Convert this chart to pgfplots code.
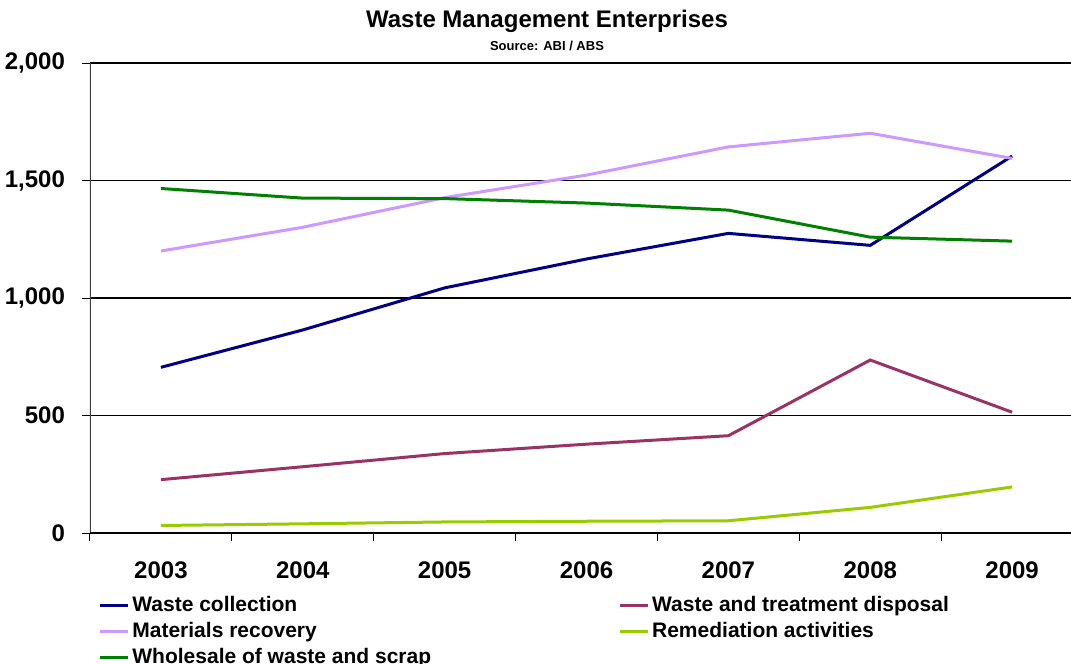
\documentclass[border=0pt]{standalone}
\usepackage{pgfplots}
\pgfplotsset{compat=1.18}
\usepackage{fontspec}
\setmainfont{Liberation Sans}
\definecolor{cCol}{HTML}{000080}
\definecolor{cTre}{HTML}{993366}
\definecolor{cMat}{HTML}{CC99FF}
\definecolor{cRem}{HTML}{99CC00}
\definecolor{cWho}{HTML}{008000}
\begin{document}
\begin{tikzpicture}
\path[use as bounding box] (-45pt,-65.5pt) rectangle (490.5pt,266.5pt);
\begin{axis}[
  at={(0,0)}, anchor=south west,
  scale only axis, width=490.5pt, height=235pt,
  xmin=-0.5, xmax=6.415, ymin=0, ymax=2000,
  enlargelimits=false,
  axis line style={draw=none},
  tick align=outside,
  xtick pos=left, ytick pos=left,
  xtick={-0.5,0.5,1.5,2.5,3.5,4.5,5.5},
  xticklabels={},
  major tick length=4pt,
  extra x ticks={0,1,2,3,4,5,6},
  extra x tick labels={2003,2004,2005,2006,2007,2008,2009},
  extra x tick style={major tick length=0pt},
  ytick={0,500,1000,1500,2000},
  tick style={black, line width=0.5pt},
  ymajorgrids, grid style={black, line width=0.6pt},
  /pgf/number format/assume math mode=true,
  /pgf/number format/1000 sep={,},
  tick label style={font=\bfseries\fontsize{12}{14}\selectfont},
  xticklabel style={yshift=-11pt},
  yticklabel style={xshift=-5pt},
  legend columns=2,
  legend cell align=left,
  legend image code/.code={\draw[#1, line width=1.5pt] (0pt,0pt) -- (14pt,0pt);},
  legend style={at={(0,0)}, anchor=north west, xshift=4pt, yshift=-29.5pt,
    draw=none, fill=none, inner sep=0pt, row sep=0pt,
    font=\bfseries\fontsize{10.5}{12}\selectfont,
    nodes={inner sep=1.5pt, text height=8pt, text depth=2pt},
    /tikz/every even column/.append style={column sep=92pt}},
  every axis plot/.append style={line width=1.5pt},
]
\addplot[cCol] coordinates {(0,705) (1,864) (2,1043) (3,1166) (4,1275) (5,1224) (6,1604)};
\addlegendentry{Waste collection}
\addplot[cTre] coordinates {(0,227) (1,282) (2,338) (3,378) (4,414) (5,736) (6,514)};
\addlegendentry{Waste and treatment disposal}
\addplot[cMat] coordinates {(0,1200) (1,1301) (2,1427) (3,1523) (4,1643) (5,1701) (6,1594)};
\addlegendentry{Materials recovery}
\addplot[cRem] coordinates {(0,32) (1,39) (2,47) (3,50) (4,52) (5,109) (6,196)};
\addlegendentry{Remediation activities}
\addplot[cWho] coordinates {(0,1466) (1,1425) (2,1423) (3,1404) (4,1374) (5,1259) (6,1242)};
\addlegendentry{Wholesale of waste and scrap}
\draw[black!75, line width=0.8pt] (rel axis cs:0,0) -- (rel axis cs:0,1);
\draw[black, line width=0.6pt] (rel axis cs:0,0) -- (rel axis cs:1,0);
\end{axis}
\node[anchor=base, font=\bfseries\fontsize{12}{14}\selectfont] at (228.5pt,252.5pt) {Waste Management Enterprises};
\node[anchor=base, font=\bfseries\fontsize{6.5}{8}\selectfont] at (228.5pt,241pt) {Source: ABI / ABS};
\end{tikzpicture}
\end{document}
